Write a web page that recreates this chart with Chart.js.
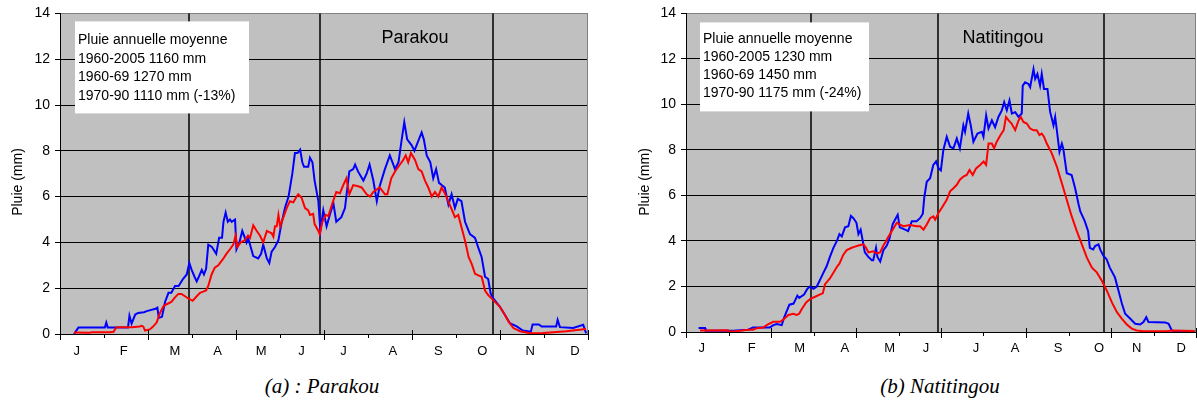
<!DOCTYPE html>
<html>
<head>
<meta charset="utf-8">
<script src="https://cdn.jsdelivr.net/npm/chart.js@4.4.1/dist/chart.umd.min.js"></script>
<style>
  body { margin: 0; background: #fff; width: 1197px; height: 419px; position: relative; overflow: hidden; }
  canvas { position: absolute; top: 0; }
  #chartParakou { left: 0; }
  #chartNati { left: 626px; }
  .caption { position: absolute; top: 374px; font: italic 21px "Liberation Serif", "DejaVu Serif", serif; transform: translateX(-50%); white-space: nowrap; color: #000; }
</style>
</head>
<body>
<canvas id="chartParakou" width="600" height="360"></canvas>
<canvas id="chartNati" width="571" height="360"></canvas>
<div class="caption" style="left:322px">(a) : Parakou</div>
<div class="caption" style="left:940px">(b) Natitingou</div>
<script>
Chart.defaults.font.family = '"Liberation Sans", Arial, sans-serif';
Chart.defaults.color = '#000';

// month initials and where each one sits (day of year)
const months = ["J", "F", "M", "A", "M", "J", "J", "A", "S", "O", "N", "D"];
const parakouMonthDays = [11.5, 44, 79.5, 109, 139, 167, 196, 230, 261.5, 292, 325, 356];
const natiMonthDays = [11.2, 47, 81.4, 113.6, 145.8, 171.8, 207.6, 235.5, 266.3, 295.6, 322.6, 354.4];
const separatorDays = [89.5, 180, 299];

const parakouNotes = ["Pluie annuelle moyenne", "1960-2005 1160 mm", "1960-69 1270 mm", "1970-90 1110 mm (-13%)"];
const natiNotes = ["Pluie annuelle moyenne", "1960-2005 1230 mm", "1960-69 1450 mm", "1970-90 1175 mm (-24%)"];

// daily rain (mm), [day of year, value]
const parakou6069 = [
  [9.7, 0], [12.7, 0.28], [31, 0.28], [32, 0.5], [33, 0.28], [47, 0.28], [48, 0.8], [49.5, 0.45], [52, 0.85], [54, 0.92],
  [58, 0.95], [60, 1.0], [66, 1.1], [67.3, 1.15], [68.3, 0.7], [70.5, 0.75], [72.6, 1.4], [75, 1.8], [77, 1.8], [79.5, 2.1],
  [82, 2.1], [85, 2.4], [87.6, 2.6], [89.4, 3.1], [91, 2.8], [93, 2.5], [94.5, 2.3], [96, 2.5], [98, 2.8], [99.5, 2.6],
  [101, 2.85], [102.5, 3.9], [105, 3.8], [107, 3.6], [108, 3.5], [110, 4.2], [112, 4.2], [113, 4.9], [114.5, 5.3], [116, 4.9],
  [117.5, 5.0], [118.7, 4.9], [121, 5.0], [122, 3.7], [124, 4.0], [126, 4.5], [129, 4.0], [130, 4.2], [133.6, 3.4], [137, 3.3],
  [139, 3.5], [140.5, 3.9], [143, 3.3], [144.7, 3.1], [146.3, 3.6], [148.6, 3.8], [151, 4.1], [153, 4.8], [155.5, 5.5], [158, 6.0],
  [160.6, 7.0], [162.4, 7.9], [164.2, 7.9], [166, 8.05], [167.5, 7.5], [168.7, 7.3], [171.6, 7.3], [172.8, 7.7], [174.5, 7.5], [176, 6.7],
  [178.6, 5.8], [180, 4.5], [182, 5.4], [184.3, 4.7], [186.5, 5.2], [189, 5.7], [191, 4.9], [194.5, 5.1], [197, 5.5], [200, 7.1],
  [202.7, 7.2], [204, 7.4], [206, 7.1], [209.7, 6.7], [212, 7.0], [214, 7.4], [216.6, 6.7], [219, 5.8], [221, 6.45], [224.6, 7.2],
  [228, 7.8], [231.6, 7.2], [234, 7.5], [236, 8.4], [238, 9.25], [240, 8.5], [243, 8.25], [245, 8.0], [247.5, 8.4], [250, 8.8],
  [251.5, 8.5], [253.5, 7.8], [256, 7.5], [258, 6.8], [260, 7.2], [262, 6.6], [266, 6.4], [268.5, 5.65], [270.7, 6.1], [273, 5.5],
  [275, 5.9], [277.5, 5.8], [280, 4.9], [283.4, 4.36], [286.9, 4.2], [289, 3.8], [291.5, 3.35], [293.8, 2.5], [296, 2.4], [297.7, 1.77],
  [299.5, 1.55], [304, 1.2], [307.6, 0.83], [311, 0.47], [315.7, 0.33], [320, 0.15], [325.5, 0.1], [326.7, 0.42], [331, 0.42], [333, 0.33],
  [343, 0.33], [344, 0.62], [345.6, 0.3], [354.8, 0.26], [361.7, 0.4], [363.7, 0.03]
];
const parakou7090 = [
  [9.7, 0.07], [20.7, 0.05], [22, 0.08], [34.6, 0.08], [37, 0.1], [39, 0.3], [50, 0.3], [55, 0.33], [56.5, 0.36], [57.6, 0.32],
  [58.8, 0.15], [62, 0.2], [64, 0.3], [66.8, 0.5], [69, 0.9], [71.4, 1.2], [73.7, 1.3], [77, 1.4], [79.5, 1.6], [81.8, 1.75],
  [84, 1.75], [86.4, 1.65], [88.7, 1.55], [91.7, 1.45], [94.5, 1.65], [96.8, 1.8], [99, 1.85], [101, 1.9], [102.5, 2.1], [104.8, 2.6],
  [107, 2.9], [109.4, 3.0], [113, 3.3], [115, 3.5], [117.5, 3.7], [119.8, 3.9], [121.4, 4.3], [122.6, 3.8], [124.9, 4.0], [127.9, 4.1],
  [130, 4.3], [131.4, 4.2], [133.6, 4.75], [136, 4.5], [138.2, 4.3], [140.5, 4.0], [143, 4.5], [146.3, 4.4], [147.5, 4.25], [148.6, 4.7],
  [149.8, 4.7], [151, 5.2], [152.2, 4.7], [154.5, 5.1], [156.7, 5.5], [159, 5.8], [161.3, 5.75], [163.6, 6.0], [164.7, 6.1], [167, 5.95],
  [169.4, 5.5], [171.6, 5.4], [172.8, 5.2], [175, 5.25], [176, 4.8], [178.6, 4.5], [179.5, 4.36], [181.4, 4.9], [183.7, 5.2], [185.5, 5.15],
  [188, 5.65], [191, 6.2], [193.5, 6.15], [195.8, 6.5], [198, 6.8], [200, 6.1], [202.7, 6.5], [206, 6.45], [208.5, 6.4], [212, 6.1],
  [214.3, 6.0], [216.6, 6.2], [221, 6.4], [224.6, 6.1], [226.3, 6.1], [229, 6.8], [231.6, 7.1], [235, 7.4], [237.3, 7.6], [239, 7.8],
  [240.7, 7.5], [242.6, 7.9], [245.4, 7.6], [247.7, 7.2], [250, 7.1], [252.3, 6.7], [254.6, 6.4], [257, 6.0], [259.2, 6.2], [261.5, 6.0],
  [263.8, 6.4], [266, 6.15], [268.4, 5.8], [270.7, 5.45], [273, 5.1], [275.3, 5.2], [277.6, 4.65], [280, 4.07], [282.5, 3.35], [284.6, 3.06],
  [286.9, 2.63], [289.2, 2.56], [291.5, 2.5], [293.8, 1.9], [296, 1.7], [299.5, 1.48], [304, 1.2], [307.6, 0.83], [310, 0.55], [313.4, 0.26],
  [318, 0.12], [325, 0.03], [334, 0.04], [345.6, 0.1], [350, 0.12], [354.5, 0.15], [363.6, 0.22]
];
const nati6069 = [
  [9, 0.18], [13.6, 0.18], [14, 0.05], [34, 0.05], [38.7, 0.08], [44.6, 0.1], [48, 0.2], [60, 0.2], [62.5, 0.3], [65, 0.35],
  [68.5, 0.3], [70, 0.6], [74, 1.2], [77, 1.25], [79.7, 1.6], [81, 1.5], [84.5, 1.65], [86.9, 1.9], [88.8, 2.0], [91.2, 1.9],
  [93.6, 2.0], [96, 2.3], [98.3, 2.6], [100.7, 2.9], [103, 3.3], [105.5, 3.7], [108, 4.0], [109.8, 4.3], [111.5, 4.2], [113.8, 4.6],
  [116.2, 4.65], [118, 5.1], [119.8, 5.0], [122, 4.8], [123.4, 4.3], [125, 4.5], [126.5, 4.0], [128, 3.5], [130.5, 3.3], [133, 3.15],
  [134, 3.15], [136, 3.7], [137, 3.3], [139, 3.1], [141.3, 3.6], [143.7, 3.8], [145.6, 4.1], [148, 4.75], [151.5, 5.15], [153, 4.6],
  [156.8, 4.5], [159, 4.43], [161.6, 4.87], [165, 4.87], [167.5, 5.0], [169.5, 5.2], [170.5, 5.9], [172.3, 6.6], [174.7, 6.76], [177, 7.34],
  [179, 7.5], [180.7, 7.2], [182.4, 7.1], [184.2, 8.0], [186.6, 8.58], [189, 8.14], [191.4, 8.07], [193.8, 8.5], [196, 8.07], [198.5, 9.08],
  [199.7, 8.8], [202, 9.6], [203.8, 9.08], [205.7, 8.36], [208.6, 8.72], [211.7, 8.8], [212.9, 8.58], [214.8, 9.52], [216.5, 8.94], [218.9, 9.3],
  [221.2, 9.0], [223.6, 9.45], [226, 9.74], [227.7, 10.1], [229.6, 9.74], [231.5, 10.17], [233.2, 9.6], [235.6, 9.66], [238, 9.45], [240.3, 9.6],
  [241, 10.83], [242.7, 10.97], [245.1, 10.9], [246.3, 10.76], [248.7, 11.55], [249.9, 11.12], [251.5, 11.34], [253.4, 10.83], [254.6, 11.34], [256.2, 10.68],
  [258.7, 10.68], [260.6, 9.67], [261.8, 9.38], [263, 9.08], [264.2, 9.45], [265.4, 8.87], [267.3, 7.92], [269, 8.28], [270, 8.07], [272.5, 6.98],
  [276, 6.9], [278.5, 6.32], [281, 5.6], [282.2, 5.3], [285.4, 4.87], [287.8, 4.43], [289, 3.7], [291.4, 3.63], [292.8, 3.78], [295.2, 3.85],
  [296.4, 3.63], [298.8, 3.34], [301, 3.2], [303.3, 2.83], [307, 2.4], [309.5, 1.82], [312, 1.24], [314.3, 0.8], [318, 0.58], [321.5, 0.36],
  [325, 0.33], [327.4, 0.44], [329.4, 0.65], [331, 0.44], [343, 0.42], [345.4, 0.36], [347.7, 0.07], [349, 0.03], [364, 0.03]
];
const nati7090 = [
  [10, 0.07], [30, 0.08], [31, 0.02], [34, 0.02], [38.7, 0.05], [44.6, 0.1], [48, 0.1], [50.6, 0.17], [55.4, 0.2], [59, 0.35],
  [62.5, 0.45], [67.3, 0.45], [69.7, 0.55], [73.3, 0.75], [76.8, 0.8], [79.2, 0.75], [81, 0.8], [82.8, 1.0], [86, 1.3], [88.8, 1.45],
  [92.4, 1.55], [96, 1.65], [97.9, 1.7], [99.5, 2.1], [103, 2.35], [105.5, 2.6], [108.4, 2.9], [109.8, 3.0], [112.6, 3.4], [115, 3.6],
  [118.6, 3.7], [121, 3.75], [123.4, 3.8], [127, 3.85], [128.9, 3.7], [130.5, 3.5], [134, 3.55], [136.5, 3.45], [138.9, 3.5], [141.3, 3.8],
  [143.2, 4.0], [144, 4.1], [146, 4.3], [148, 4.5], [150.8, 4.8], [153.2, 4.72], [155.6, 4.65], [160.4, 4.7], [165, 4.65], [167.5, 4.65],
  [170, 4.5], [172.3, 4.72], [174.7, 5.0], [177, 5.08], [178.3, 4.94], [180.7, 5.23], [183, 5.45], [186.6, 5.81], [189, 6.18], [191.4, 6.32],
  [193.8, 6.47], [196, 6.69], [198.5, 6.83], [200.9, 6.9], [202.9, 7.12], [205.2, 6.9], [207.6, 7.19], [210.5, 7.34], [213, 7.49], [214.8, 7.34],
  [216.5, 8.28], [218.9, 8.28], [220.5, 8.07], [222.4, 8.36], [225, 8.65], [227.4, 8.87], [229, 9.45], [230.9, 9.3], [233, 9.16], [235.6, 8.87],
  [238, 9.3], [239.6, 9.45], [241.5, 9.23], [243.9, 9.16], [246.3, 8.94], [248.7, 8.87], [251, 8.87], [253, 8.65], [254.6, 8.72], [256.2, 8.58],
  [258.2, 8.28], [261.8, 7.85], [265.4, 7.27], [269, 6.54], [272.5, 5.81], [276, 5.09], [279.7, 4.43], [283.3, 3.85], [286.9, 3.27], [290.5, 2.83],
  [294, 2.62], [297.6, 2.25], [301.2, 1.82], [304.8, 1.3], [308.4, 0.87], [312, 0.58], [315.5, 0.33], [319, 0.15], [322.6, 0.07], [327.4, 0.03],
  [344, 0.03], [348, 0.07], [364, 0.04]
];

const toPoints = rows => rows.map(([x, y]) => ({ x, y }));

// grey plot background, separators, notes box, month axis
const panelPlugin = {
  id: "panel",
  beforeDraw(chart) {
    const { ctx, chartArea: a } = chart;
    ctx.save();
    ctx.fillStyle = "#c0c0c0";
    ctx.fillRect(a.left, a.top, a.right - a.left, a.bottom - a.top);
    ctx.restore();
  },
  beforeDatasetsDraw(chart, args, opts) {
    const { ctx, chartArea: a } = chart;
    const x = chart.scales.x;
    ctx.save();
    ctx.strokeStyle = "#000";
    ctx.lineWidth = 1.5;
    separatorDays.forEach(d => {
      const px = Math.round(x.getPixelForValue(d));
      ctx.beginPath();
      ctx.moveTo(px, a.top);
      ctx.lineTo(px, a.bottom);
      ctx.stroke();
    });
    ctx.strokeStyle = "#808080";
    ctx.lineWidth = 1;
    ctx.beginPath();
    ctx.moveTo(Math.round(a.right) - 0.5, a.top);
    ctx.lineTo(Math.round(a.right) - 0.5, a.bottom);
    ctx.stroke();

    const b = opts.box;
    ctx.fillStyle = "#fff";
    ctx.fillRect(a.left + b.x, a.top + b.y, b.w, b.h);
    ctx.fillStyle = "#000";
    ctx.font = '14px "Liberation Sans", Arial';
    ctx.textAlign = "left";
    ctx.textBaseline = "middle";
    opts.notes.forEach((t, i) => ctx.fillText(t, a.left + b.tx, a.top + b.ty + i * b.step));

    ctx.font = '18px "Liberation Sans", Arial';
    ctx.textAlign = "center";
    ctx.fillText(opts.station, a.left + opts.stationX, a.top + opts.stationY);
    ctx.restore();
  },
  afterDraw(chart, args, opts) {
    const { ctx, chartArea: a } = chart;
    const x = chart.scales.x;
    ctx.save();
    ctx.strokeStyle = "#000";
    ctx.lineWidth = 1;
    ctx.beginPath();
    ctx.moveTo(a.left, Math.round(a.bottom) + 0.5);
    ctx.lineTo(a.right, Math.round(a.bottom) + 0.5);
    ctx.stroke();
    // month ticks, longer every second month
    for (let k = 0; k <= 12; k++) {
      const px = Math.round(x.getPixelForValue(k * 365 / 12)) + 0.5;
      ctx.beginPath();
      if (k % 2 === 0) {
        ctx.moveTo(px, a.bottom - 4);
        ctx.lineTo(px, a.bottom + 6);
      } else {
        ctx.moveTo(px, a.bottom);
        ctx.lineTo(px, a.bottom + 4);
      }
      ctx.stroke();
    }
    ctx.fillStyle = "#000";
    ctx.font = '13px "Liberation Sans", Arial';
    ctx.textAlign = "center";
    ctx.textBaseline = "middle";
    months.forEach((m, i) => ctx.fillText(m, x.getPixelForValue(opts.monthDays[i]), a.bottom + opts.labelOffset));

    ctx.font = '14px "Liberation Sans", Arial';
    ctx.translate(opts.titleX, opts.titleY);
    ctx.rotate(-Math.PI / 2);
    ctx.fillText("Pluie (mm)", 0, 0);
    ctx.restore();
  }
};

function makeChart(id, wet, dry, padding, panel) {
  return new Chart(document.getElementById(id), {
    type: "line",
    data: {
      datasets: [
        { label: "1960-69", data: toPoints(wet), borderColor: "#0000ff", borderWidth: 2, pointRadius: 0, tension: 0, order: 1 },
        { label: "1970-90", data: toPoints(dry), borderColor: "#ff0000", borderWidth: 2, pointRadius: 0, tension: 0, order: 0 }
      ]
    },
    options: {
      responsive: false,
      animation: false,
      layout: { padding },
      plugins: { legend: { display: false }, tooltip: { enabled: false }, panel },
      scales: {
        x: { type: "linear", min: 0, max: 365, display: false },
        y: {
          min: 0,
          max: 14,
          afterFit: s => { s.width = 60; },
          ticks: { stepSize: 2, padding: 5, color: "#000", font: { size: 14 } },
          grid: {
            color: c => (c.tick && c.tick.value === 14 ? "#808080" : "#000"),
            tickColor: "#000",
            tickLength: 5,
            lineWidth: 1
          },
          border: { color: "#000", width: 1 }
        }
      }
    },
    plugins: [panelPlugin]
  });
}

makeChart("chartParakou", parakou6069, parakou7090,
  { left: 0, top: 10, right: 12, bottom: 26 },
  {
    notes: parakouNotes,
    box: { x: 15, y: 8, w: 174, h: 92, tx: 18, ty: 27, step: 18.5 },
    station: "Parakou", stationX: 355, stationY: 25,
    monthDays: parakouMonthDays, labelOffset: 17,
    titleX: 18, titleY: 182
  });

makeChart("chartNati", nati6069, nati7090,
  { left: 0, top: 10, right: 1, bottom: 28 },
  {
    notes: natiNotes,
    box: { x: 14, y: 9, w: 169, h: 89, tx: 17, ty: 26, step: 18 },
    station: "Natitingou", stationX: 317, stationY: 25,
    monthDays: natiMonthDays, labelOffset: 16,
    titleX: 19, titleY: 182
  });
</script>
</body>
</html>
